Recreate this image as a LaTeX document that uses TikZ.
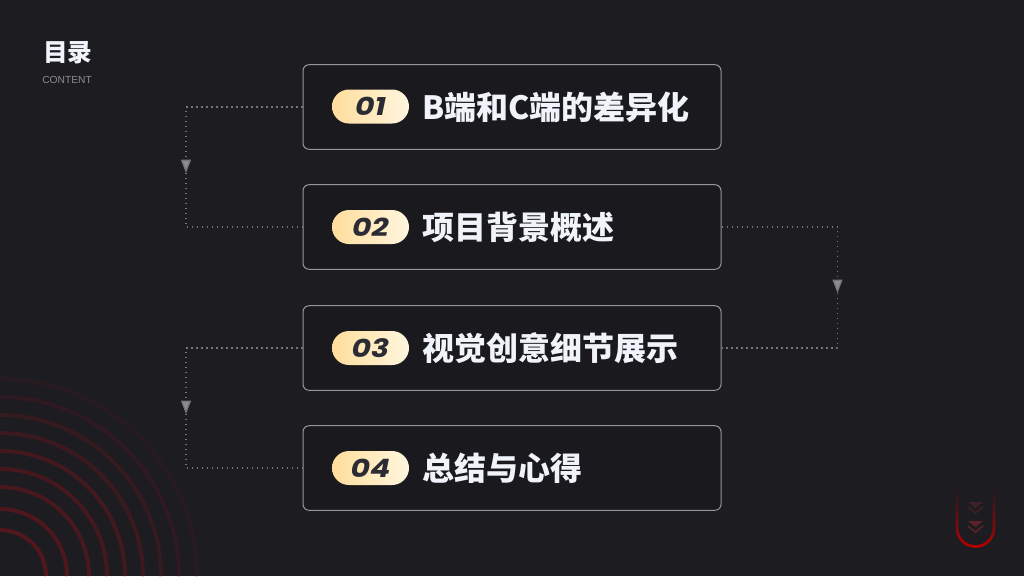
\documentclass[tikz,border=0pt]{standalone}
\usepackage{fontspec}
\setmainfont{Liberation Sans}
\newfontfamily\cjk{Noto Sans CJK SC}
\newfontfamily\numfont[FakeStretch=1.18]{Poppins}
\usetikzlibrary{shapes.misc,arrows.meta,fadings}

\definecolor{pagebg}{HTML}{1C1C21}
\definecolor{inkwhite}{HTML}{F1F3FB}
\definecolor{flowgray}{HTML}{8C8C90}
\definecolor{pillink}{HTML}{2B2B33}
\definecolor{mutered}{HTML}{5A2327}
\definecolor{ringred}{HTML}{52171D}
\definecolor{pillleft}{HTML}{FFDD9C}
\definecolor{pillright}{HTML}{FFF6DF}

\tikzfading[name=fadeup, bottom color=transparent!0, top color=transparent!100]

\tikzset{
	itembox/.style={draw=flowgray!90!white, fill=pagebg!92!black, line width=0.75pt, rounded corners=4.5pt, minimum width=313.5pt, minimum height=63.4pt, inner sep=0pt},
	itempill/.style={rounded rectangle, left color=pillleft, right color=pillright, minimum width=57.75pt, minimum height=25.5pt, inner sep=0pt, text=pillink, font=\numfont\bfseries\itshape\fontsize{19}{19}\selectfont},
	itemtext/.style={anchor=west, inner sep=0pt, text=inkwhite, font=\cjk\bfseries\fontsize{24}{24}\selectfont},
	flowline/.style={draw=flowgray!80!pagebg, line width=0.9pt, dash pattern=on 1.1pt off 2.65pt},
	flowtip/.style={flowline, -{Triangle[width=7.5pt,length=10pt,fill=flowgray,sep=0pt]}},
	ring/.style={line width=3pt},
}

\begin{document}
\begin{tikzpicture}[x=0.75pt,y=-0.75pt]
	\useasboundingbox (0,0) rectangle (1024,576);
	\fill[pagebg] (0,0) rectangle (1024,576);

	\begin{scope}
		\clip (0,0) rectangle (1024,576);
		\draw[ring, draw=ringred!100!pagebg] (46,576) arc (0:-90:46);
		\draw[ring, draw=ringred!92!pagebg] (67,576) arc (0:-90:67);
		\draw[ring, draw=ringred!84!pagebg] (89,576) arc (0:-90:89);
		\draw[ring, draw=ringred!76!pagebg] (107,576) arc (0:-90:107);
		\draw[ring, draw=ringred!68!pagebg] (125,576) arc (0:-90:125);
		\draw[ring, draw=ringred!58!pagebg] (143,576) arc (0:-90:143);
		\draw[ring, draw=ringred!46!pagebg] (161,576) arc (0:-90:161);
		\draw[ring, draw=ringred!34!pagebg] (179,576) arc (0:-90:179);
		\draw[ring, draw=ringred!22!pagebg] (197,576) arc (0:-90:197);
	\end{scope}

	\node[anchor=west, inner sep=0pt, text=inkwhite, font=\cjk\bfseries\fontsize{18.5}{18.5}\selectfont] (heading) at (43,52.5) {目录};
	\node[anchor=west, inner sep=0pt, text=flowgray, font=\fontsize{7.7}{7.7}\selectfont] (subheading) at (42,79.5) {CONTENT};

	\node[itembox] (box1) at (512,107) {};
	\node[itembox] (box2) at (512,227) {};
	\node[itembox] (box3) at (512,348) {};
	\node[itembox] (box4) at (512,468) {};

	\node[itempill] (pill1) at (370.5,106.5) {01};
	\node[itempill] (pill2) at (370.5,227) {02};
	\node[itempill] (pill3) at (370.5,348) {03};
	\node[itempill] (pill4) at (370.5,468) {04};

	\node[itemtext] (item1) at (422,107) {B端和C端的差异化};
	\node[itemtext] (item2) at (422,227) {项目背景概述};
	\node[itemtext] (item3) at (422,348) {视觉创意细节展示};
	\node[itemtext] (item4) at (422,468) {总结与心得};

	\coordinate (tip1) at (186,173);
	\coordinate (tip2) at (837.5,293);
	\coordinate (tip3) at (186,414);

	\draw[flowtip] (box1.west) -| (tip1);
	\draw[flowline] (tip1) |- (box2.west);
	\draw[flowtip] (box2.east) -| (tip2);
	\draw[flowline] (tip2) |- (box3.east);
	\draw[flowtip] (box3.west) -| (tip3);
	\draw[flowline] (tip3) |- (box4.west);

	\draw[draw=red!72!black, line width=2pt, path fading=fadeup] (957,490) -- (957,528) arc (180:0:18.5) -- (994,490);
	\fill[mutered!60!pagebg] (968,502) -- (983,502) -- (975.5,508) -- cycle;
	\fill[mutered!60!pagebg] (968,506) -- (975.5,512) -- (983,506) -- (983,508) -- (975.5,514) -- (968,508) -- cycle;
	\fill[mutered] (968,521) -- (983,521) -- (975.5,527) -- cycle;
	\fill[mutered] (968,525) -- (975.5,531) -- (983,525) -- (983,527) -- (975.5,533) -- (968,527) -- cycle;
\end{tikzpicture}
\end{document}
